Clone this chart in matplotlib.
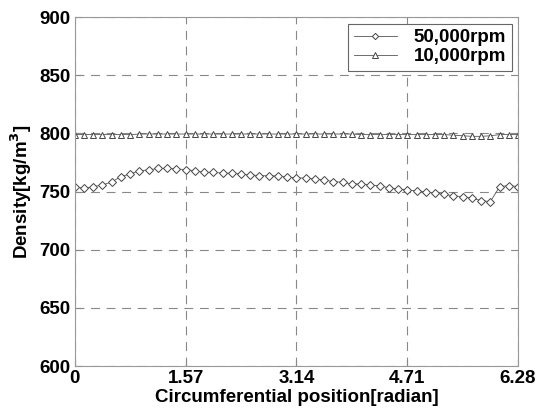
import numpy as np
import matplotlib
matplotlib.use('Agg')
import matplotlib.pyplot as plt

plt.rcParams['font.family'] = ['Liberation Sans', 'DejaVu Sans']
plt.rcParams['font.weight'] = 'bold'
plt.rcParams['mathtext.default'] = 'bf'

# Circumferential positions (49 nodes around the circle)
position = np.linspace(0, 6.28, 49)

# Density at 50,000 rpm
rpm50k = [754.3, 752.8, 754.3, 755.7, 758.3, 762.9, 765.2, 768.0, 768.6, 770.0,
          770.0, 769.5, 768.9, 768.0, 766.6, 766.6, 765.8, 765.8, 765.2, 764.3,
          763.8, 763.5, 763.5, 762.3, 762.0, 761.5, 760.9, 760.0, 758.6, 758.0,
          756.6, 756.6, 755.7, 754.9, 753.4, 752.3, 751.4, 750.6, 750.0, 748.6,
          747.7, 746.3, 745.7, 744.3, 742.3, 741.4, 754.3, 755.2, 754.3]

# Density at 10,000 rpm
rpm10k = [799, 799, 799, 799, 799, 799, 799, 799.5, 799.5, 799.5,
          799.5, 799.5, 799.5, 799.5, 799.5, 799.5, 799.5, 799.5, 799.5, 799.5,
          799.5, 799.5, 799.5, 799.5, 799.5, 799.5, 799.5, 799.5, 799.5, 799.5,
          799.5, 799, 799, 799, 799, 799, 799, 799, 799, 799,
          799, 798.5, 798, 797.5, 797.5, 798, 799, 799, 799]

xticks = [0, 1.57, 3.14, 4.71, 6.28]
xtick_labels = ['0', '1.57', '3.14', '4.71', '6.28']
yticks = [600, 650, 700, 750, 800, 850, 900]

fig = plt.figure(figsize=(5.38, 4.17), dpi=100)
ax = fig.add_axes([0.139, 0.122, 0.824, 0.837])

ax.plot(position, rpm50k, color='#555555', linewidth=0.6, marker='D', markersize=4,
        markerfacecolor='white', markeredgecolor='#444444', markeredgewidth=0.7,
        label='50,000rpm')
ax.plot(position, rpm10k, color='#555555', linewidth=0.6, marker='^', markersize=5,
        markerfacecolor='white', markeredgecolor='#444444', markeredgewidth=0.7,
        label='10,000rpm')

ax.set_xlim(0, 6.28)
ax.set_ylim(600, 900)
ax.set_xticks(xticks)
ax.set_xticklabels(xtick_labels)
ax.set_yticks(yticks)
ax.tick_params(direction='in', labelsize=13.5, color='#888888', length=4, pad=3)
ax.grid(True, linestyle=(0, (8, 6)), color='#888888', linewidth=0.8)
for s in ax.spines.values():
    s.set_color('#999999')

ax.set_xlabel('Circumferential position[radian]', fontsize=13.5, fontweight='bold',
              labelpad=1)
ax.set_ylabel('Density[kg/m$^{3}$]', fontsize=13.5, fontweight='bold')

leg = ax.legend(loc='upper right', fontsize=13.5, fancybox=False, framealpha=1,
                edgecolor='#666666', handlelength=2.3, borderaxespad=0.35,
                labelspacing=0.1, borderpad=0.3, handletextpad=0.9,
                markerscale=0.8)
leg.get_frame().set_linewidth(0.8)

fig.savefig('out.png', dpi=100)
